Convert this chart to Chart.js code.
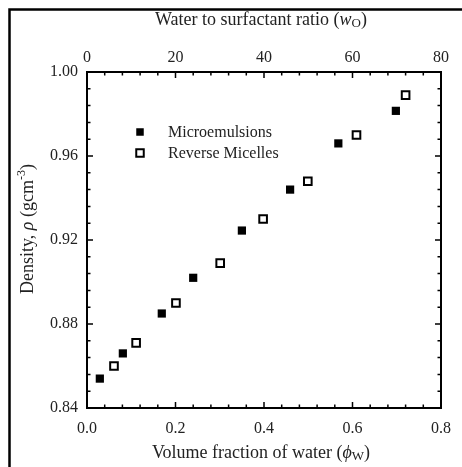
<!DOCTYPE html>
<html>
<head>
<meta charset="utf-8">
<script src="https://cdn.jsdelivr.net/npm/chart.js"></script>
<style>
html, body { margin: 0; padding: 0; background: #fff; }
#wrap { width: 462px; height: 467px; }
</style>
</head>
<body>
<div id="wrap"><canvas id="myChart"></canvas></div>
<script>
// data
var microX = [0.029, 0.081, 0.169, 0.240, 0.350, 0.459, 0.568, 0.698];
var microY = [0.854, 0.866, 0.885, 0.902, 0.9245, 0.944, 0.966, 0.9815];
var reverseX = [0.061, 0.111, 0.201, 0.301, 0.398, 0.499, 0.609, 0.720];
var reverseY = [0.860, 0.871, 0.890, 0.909, 0.930, 0.948, 0.970, 0.989];
var xTicks = [0, 0.2, 0.4, 0.6, 0.8];
var topTicks = [0, 20, 40, 60, 80];
var yTicks = [0.84, 0.88, 0.92, 0.96, 1.00];
var seriesNames = ["Microemulsions", "Reverse Micelles"];

var serif = "'Liberation Serif', 'Times New Roman', serif";
var textColor = "#222";

function pts(xs, ys) {
  return xs.map(function (x, i) { return { x: x, y: ys[i] }; });
}

function setTicks(list) {
  return function (scale) {
    scale.ticks = list.map(function (v) { return { value: v }; });
  };
}

// draws a line of text made of pieces (italic, subscripts...)
function richText(ctx, parts, x, y, align) {
  var total = 0;
  parts.forEach(function (p) { ctx.font = p.font; total += ctx.measureText(p.t).width; });
  var cx = align === "center" ? x - total / 2 : x;
  parts.forEach(function (p) {
    ctx.font = p.font;
    ctx.fillText(p.t, cx, y + (p.dy || 0));
    cx += ctx.measureText(p.t).width;
  });
}

var framePlugin = {
  id: "frame",
  beforeDraw: function (chart) {
    var ctx = chart.ctx;
    ctx.save();
    ctx.strokeStyle = "#000";
    ctx.lineWidth = 2.5;
    ctx.beginPath();
    ctx.moveTo(9.5, chart.height);
    ctx.lineTo(9.5, 9.5);
    ctx.lineTo(chart.width, 9.5);
    ctx.stroke();
    ctx.restore();
  },
  afterDraw: function (chart) {
    var ctx = chart.ctx;
    var a = chart.chartArea;
    var sx = chart.scales.x, sx2 = chart.scales.x2, sy = chart.scales.y;
    ctx.save();
    ctx.strokeStyle = "#000";
    ctx.lineWidth = 2;
    ctx.strokeRect(a.left, a.top, a.right - a.left, a.bottom - a.top);

    // inward ticks
    ctx.lineWidth = 1.5;
    ctx.beginPath();
    function tickRun(list, scale, side) {
      var step = (list[1] - list[0]) / 5;
      for (var i = 0; i < (list.length - 1) * 5; i++) {
        var v = list[0] + i * step;
        var len = (i % 5 === 0) ? 6 : 3.5;
        var p = scale.getPixelForValue(v);
        if (side === "bottom") { ctx.moveTo(p, a.bottom); ctx.lineTo(p, a.bottom - len); }
        if (side === "top") { ctx.moveTo(p, a.top); ctx.lineTo(p, a.top + len); }
        if (side === "left") { ctx.moveTo(a.left, p); ctx.lineTo(a.left + len, p); }
        if (side === "right") { ctx.moveTo(a.right, p); ctx.lineTo(a.right - len, p); }
      }
    }
    tickRun(xTicks, sx, "bottom");
    tickRun(topTicks, sx2, "top");
    tickRun(yTicks, sy, "left");
    tickRun(yTicks, sy, "right");
    ctx.stroke();

    // axis titles
    ctx.fillStyle = textColor;
    ctx.textBaseline = "middle";
    var f = "18px " + serif, fi = "italic 18px " + serif, fs = "13px " + serif;
    richText(ctx, [
      { t: "Water to surfactant ratio (", font: f },
      { t: "w", font: fi },
      { t: "O", font: fs, dy: 4 },
      { t: ")", font: f }
    ], (a.left + a.right) / 2 - 3, 20, "center");
    richText(ctx, [
      { t: "Volume fraction of water (", font: f },
      { t: "\u03d5", font: fi },
      { t: "W", font: fs, dy: 4 },
      { t: ")", font: f }
    ], (a.left + a.right) / 2 - 3, 453, "center");
    ctx.save();
    ctx.translate(28, (a.top + a.bottom) / 2 - 11);
    ctx.rotate(-Math.PI / 2);
    richText(ctx, [
      { t: "Density, ", font: "18px " + serif },
      { t: "\u03c1", font: "italic 18px " + serif },
      { t: " (gcm", font: "18px " + serif },
      { t: "-3", font: "12px " + serif, dy: -6 },
      { t: ")", font: "18px " + serif }
    ], 0, 0, "center");
    ctx.restore();

    // legend inside plot
    var ds = chart.data.datasets;
    var rows = [132, 153];
    ds.forEach(function (d, i) {
      var s = 7.5;
      ctx.fillStyle = d.backgroundColor;
      ctx.fillRect(140 - s / 2, rows[i] - s / 2, s, s);
      if (d.borderWidth) {
        ctx.lineWidth = d.borderWidth;
        ctx.strokeStyle = d.borderColor;
        ctx.strokeRect(140 - s / 2, rows[i] - s / 2, s, s);
      }
      ctx.fillStyle = textColor;
      ctx.font = "16px " + serif;
      ctx.textAlign = "left";
      ctx.fillText(d.label, 168, rows[i] + 1);
    });
    ctx.restore();
  }
};

new Chart("myChart", {
  type: "scatter",
  data: {
    datasets: [{
      label: seriesNames[0],
      data: pts(microX, microY),
      pointStyle: "rect",
      pointRadius: 5.8,
      backgroundColor: "#000",
      borderColor: "#000",
      borderWidth: 0
    }, {
      label: seriesNames[1],
      data: pts(reverseX, reverseY),
      pointStyle: "rect",
      pointRadius: 5.4,
      backgroundColor: "#fff",
      borderColor: "#000",
      borderWidth: 2
    }]
  },
  options: {
    animation: false,
    responsive: true,
    maintainAspectRatio: false,
    layout: { padding: { left: 0, right: 21, top: 0, bottom: 0 } },
    plugins: { legend: { display: false }, tooltip: { enabled: false } },
    scales: {
      x: {
        type: "linear", position: "bottom", min: 0, max: 0.8,
        afterBuildTicks: setTicks(xTicks),
        afterFit: function (s) { s.height = 59; },
        grid: { display: false, drawTicks: false },
        border: { display: false },
        ticks: {
          padding: 11, color: textColor,
          font: { family: serif, size: 16 },
          callback: function (v) { return v.toFixed(1); }
        }
      },
      x2: {
        type: "linear", position: "top", min: 0, max: 80,
        afterBuildTicks: setTicks(topTicks),
        afterFit: function (s) { s.height = 72; },
        grid: { display: false, drawTicks: false },
        border: { display: false },
        ticks: {
          padding: 5, color: textColor,
          font: { family: serif, size: 16 }
        }
      },
      y: {
        type: "linear", position: "left", min: 0.84, max: 1.00,
        afterBuildTicks: setTicks(yTicks),
        afterFit: function (s) { s.width = 87; },
        grid: { display: false, drawTicks: false },
        border: { display: false },
        ticks: {
          padding: 9, color: textColor,
          font: { family: serif, size: 16 },
          callback: function (v) { return v.toFixed(2); }
        }
      }
    }
  },
  plugins: [framePlugin]
});
</script>
</body>
</html>
